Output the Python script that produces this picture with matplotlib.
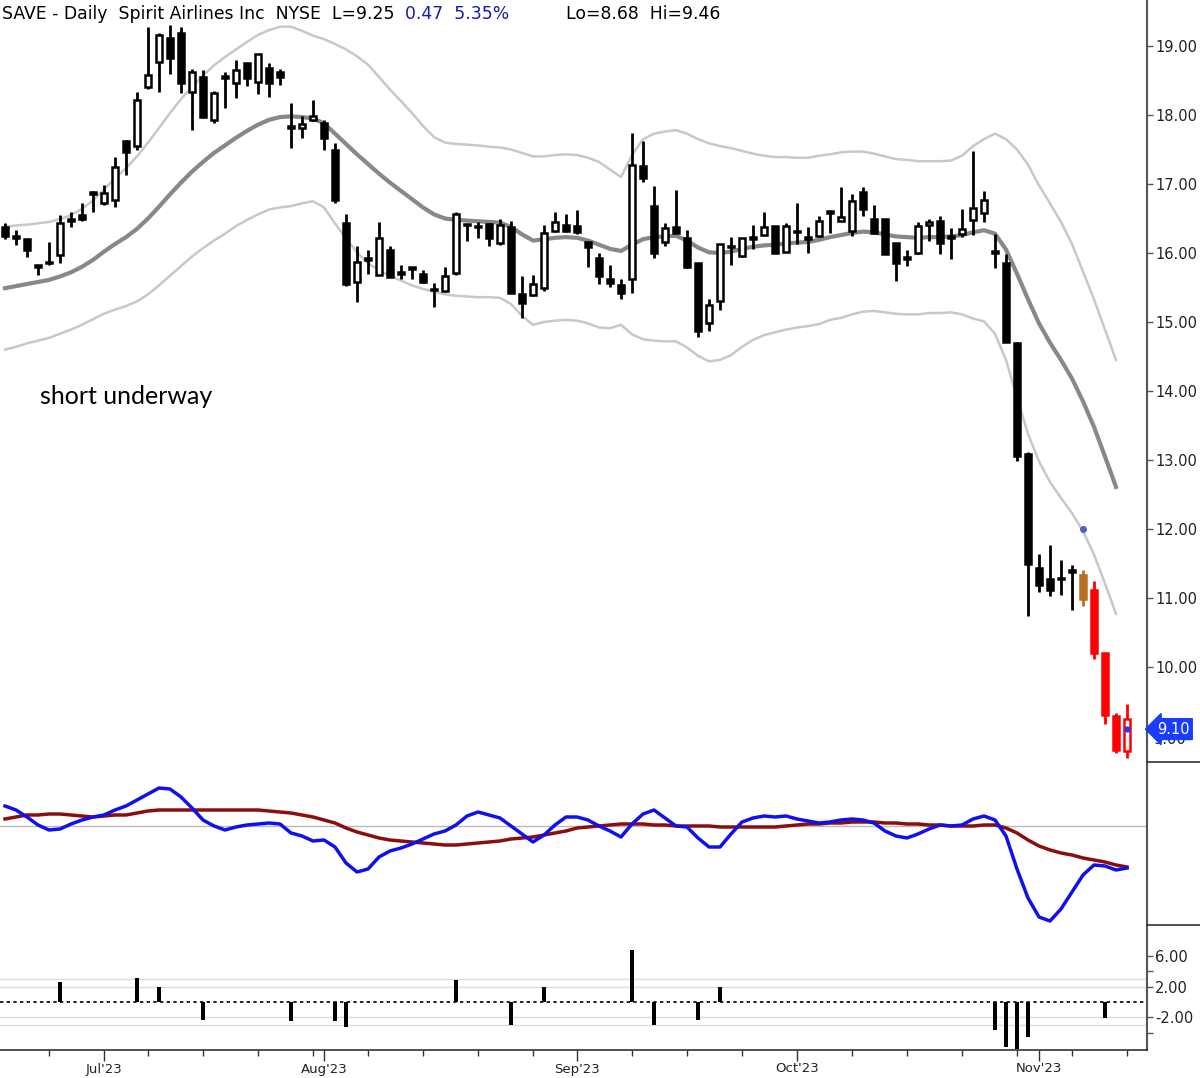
import matplotlib
matplotlib.use("Agg")
import matplotlib.pyplot as plt
import numpy as np
import pandas as pd
from matplotlib.lines import Line2D

# ---------------- data ----------------
dates = [d for d in pd.bdate_range("2023-06-20", "2023-11-13")
         if d.strftime("%Y-%m-%d") not in ("2023-07-04", "2023-09-04")]

opens = [16.38,16.25,16.2,15.8,15.85,15.97,16.47,16.55,16.88,16.72,16.77,17.62,17.55,18.4,18.77,19.12,19.19,18.34,18.55,17.93,
         18.54,18.46,18.75,18.48,18.68,18.62,17.83,17.81,17.93,17.88,17.5,16.43,15.58,15.9,15.68,16.04,15.7,15.77,15.7,15.47,
         15.45,15.71,16.4,16.37,16.42,16.15,16.37,15.4,15.39,15.49,16.32,16.4,16.39,16.16,15.93,15.63,15.54,15.63,17.26,16.68,
         16.16,16.38,16.22,15.86,14.98,15.3,16.08,15.96,16.21,16.26,16.39,16.02,16.3,16.21,16.24,16.58,16.47,16.32,16.88,16.49,
         16.49,16.14,15.92,16.0,16.4,16.46,16.22,16.27,16.48,16.58,16.0,15.86,14.7,13.09,11.44,11.28,11.27,11.39,11.33,11.12,
         10.2,9.29,8.78]
highs = [16.43,16.33,16.22,15.82,16.16,16.55,16.6,16.72,16.9,16.98,17.39,17.64,18.33,19.28,19.19,19.3,19.28,18.66,18.65,18.35,
         18.62,18.8,18.75,18.88,18.75,18.66,18.17,17.98,18.22,17.93,17.6,16.57,16.1,16.04,16.45,16.1,15.83,15.79,15.76,15.57,
         15.79,16.6,16.42,16.45,16.43,16.5,16.46,15.67,15.68,16.41,16.6,16.57,16.63,16.16,16.0,15.82,15.62,17.74,17.63,16.97,
         16.43,16.91,16.33,15.86,15.33,16.13,16.23,16.22,16.4,16.59,16.39,16.43,16.73,16.38,16.54,16.62,16.96,16.86,16.96,16.7,
         16.5,16.14,16.04,16.45,16.5,16.53,16.36,16.64,17.48,16.9,16.28,15.99,14.71,13.11,11.64,11.77,11.55,11.48,11.41,11.25,
         10.21,9.34,9.46]
lows = [16.2,16.12,15.94,15.68,15.83,15.86,16.37,16.46,16.6,16.7,16.67,17.13,17.5,18.38,18.33,18.6,18.32,17.78,17.95,17.89,
        18.1,18.25,18.42,18.3,18.26,18.43,17.52,17.67,17.92,17.5,16.72,15.52,15.29,15.7,15.68,15.65,15.62,15.62,15.56,15.22,
        15.43,15.68,16.17,16.22,16.1,16.12,15.42,15.06,15.38,15.45,16.31,16.3,16.27,15.8,15.55,15.51,15.34,15.42,17.03,15.93,
        16.1,16.29,15.78,14.78,14.87,15.17,15.83,15.94,16.06,16.24,16.0,16.01,16.13,16.0,16.23,16.29,16.46,16.25,16.53,16.27,
        15.98,15.6,15.81,15.98,16.18,15.99,15.92,16.23,16.26,16.45,15.78,14.71,12.98,10.74,11.08,11.03,11.05,10.83,10.88,10.12,
        9.18,8.76,8.68]
closes = [16.25,16.22,16.05,15.82,15.86,16.43,16.5,16.5,16.85,16.87,17.25,17.46,18.22,18.58,19.16,18.83,18.46,18.62,17.97,18.32,
          18.54,18.65,18.53,18.88,18.46,18.55,17.81,17.87,17.99,17.67,16.77,15.55,15.87,15.93,16.22,15.65,15.72,15.77,15.58,15.46,
          15.66,16.57,16.4,16.38,16.22,16.4,15.42,15.27,15.55,16.29,16.45,16.32,16.31,16.09,15.66,15.57,15.42,17.27,17.09,16.0,
          16.36,16.29,15.8,14.87,15.24,16.13,16.09,16.22,16.22,16.38,16.0,16.39,16.31,16.22,16.47,16.58,16.52,16.76,16.64,16.29,
          15.99,15.86,15.93,16.39,16.45,16.15,16.23,16.35,16.65,16.77,16.01,14.71,13.06,11.49,11.19,11.11,11.28,11.38,10.98,10.21,
          9.31,8.79,9.25]

ma20 = [15.49,15.52,15.55,15.58,15.61,15.66,15.72,15.80,15.90,16.02,16.13,16.23,16.35,16.50,16.67,16.85,17.02,17.18,17.32,17.45,
        17.56,17.67,17.77,17.86,17.93,17.97,17.98,17.97,17.95,17.88,17.73,17.58,17.43,17.29,17.15,17.02,16.90,16.78,16.66,16.56,
        16.50,16.48,16.47,16.46,16.45,16.44,16.38,16.27,16.18,16.20,16.22,16.23,16.22,16.18,16.12,16.06,16.03,16.12,16.20,16.23,
        16.24,16.25,16.18,16.08,16.01,16.00,16.02,16.06,16.09,16.11,16.12,16.14,16.15,16.16,16.19,16.23,16.26,16.29,16.31,16.30,
        16.27,16.24,16.23,16.22,16.23,16.23,16.24,16.26,16.30,16.33,16.28,16.05,15.70,15.33,14.98,14.70,14.45,14.18,13.85,13.48,
        13.05,12.61]
band_width = [0.89,0.88,0.86,0.85,0.84,0.83,0.83,0.84,0.86,0.9,0.95,1.0,1.05,1.1,1.14,1.18,1.21,1.23,1.25,1.27,
              1.28,1.28,1.29,1.3,1.3,1.31,1.3,1.25,1.2,1.22,1.3,1.37,1.42,1.44,1.4,1.35,1.3,1.25,1.18,1.12,
              1.1,1.1,1.1,1.1,1.09,1.09,1.12,1.18,1.22,1.2,1.2,1.2,1.2,1.2,1.2,1.15,1.07,1.3,1.45,1.5,
              1.52,1.53,1.55,1.57,1.58,1.55,1.5,1.42,1.35,1.3,1.27,1.25,1.23,1.22,1.22,1.2,1.2,1.18,1.16,1.14,
              1.13,1.12,1.12,1.11,1.1,1.1,1.1,1.15,1.25,1.32,1.45,1.6,1.8,1.95,2.0,2.02,2.0,1.95,1.88,1.85,
              1.84,1.84]

osc_fast = [2.0,1.6,0.9,0.1,-0.4,-0.3,0.2,0.6,0.9,1.1,1.6,2.0,2.6,3.2,3.8,3.7,2.9,1.8,0.6,0.0,
            -0.4,-0.1,0.1,0.2,0.3,0.2,-0.7,-1.0,-1.5,-1.4,-2.1,-3.7,-4.6,-4.3,-3.1,-2.5,-2.2,-1.8,-1.3,-0.8,
            -0.5,0.1,1.0,1.4,1.1,0.8,0.0,-0.8,-1.6,-0.9,0.1,0.9,0.9,0.6,0.0,-0.5,-1.1,0.2,1.2,1.6,
            0.8,0.0,-0.1,-1.2,-2.1,-2.1,-0.8,0.4,0.8,1.0,0.9,1.0,0.7,0.5,0.3,0.4,0.6,0.7,0.6,0.3,
            -0.5,-1.0,-1.2,-0.8,-0.3,0.1,0.0,0.1,0.7,1.0,0.6,-1.0,-4.3,-7.2,-9.1,-9.5,-8.3,-6.6,-4.9,-3.9,
            -4.0,-4.4,-4.2]
osc_slow = [0.7,0.9,1.1,1.1,1.2,1.2,1.1,1.0,0.9,1.0,1.1,1.1,1.3,1.5,1.6,1.6,1.6,1.6,1.6,1.6,
            1.6,1.6,1.6,1.6,1.5,1.4,1.3,1.1,0.9,0.6,0.3,-0.2,-0.6,-0.9,-1.2,-1.4,-1.5,-1.6,-1.7,-1.8,
            -1.9,-1.9,-1.8,-1.7,-1.6,-1.5,-1.3,-1.2,-1.1,-0.9,-0.7,-0.5,-0.2,-0.1,0.0,0.1,0.2,0.2,0.2,0.1,
            0.1,0.0,0.0,0.0,0.0,-0.1,-0.1,-0.1,-0.1,-0.1,-0.1,0.0,0.1,0.2,0.2,0.3,0.3,0.4,0.4,0.4,
            0.3,0.3,0.2,0.2,0.1,0.1,0.0,0.0,0.0,0.1,0.1,-0.2,-0.7,-1.4,-2.0,-2.4,-2.7,-2.9,-3.2,-3.4,
            -3.6,-3.9,-4.1]

hist_idx = [5, 12, 14, 18, 26, 30, 31, 41, 46, 49, 57, 59, 63, 65, 90, 91, 92, 93, 100]
hist_val = [2.6, 3.1, 2.0, -2.4, -2.5, -2.5, -3.3, 2.8, -3.0, 2.0, 6.7, -3.0, -2.4, 2.0, -3.7, -5.9, -6.1, -4.6, -2.1]

brown_idx = [98]
red_idx = [99, 100, 101, 102]
dot_idx, dot_price = 98, 12.0
last_price_label = "9.10"
last_price = 9.10

# ---------------- figure ----------------
W, H = 1200, 1078
fig = plt.figure(figsize=(W / 100, H / 100), dpi=100)
plt.rcParams["font.family"] = ["DejaVu Sans"]
right = 1147 / W

def fy(px):
    return 1 - px / H

ax = fig.add_axes([0, fy(762), right, 762 / H])
axo = fig.add_axes([0, fy(925), right, 163 / H], sharex=ax)
axh = fig.add_axes([0, fy(1050), right, 125 / H], sharex=ax)

n = len(opens)
x = np.arange(n)
o = np.array(opens); h = np.array(highs); l = np.array(lows); c = np.array(closes)

fills, edges = [], []
for i in range(n):
    up = c[i] >= o[i]
    if i in red_idx:
        fills.append("white" if up else "#ff0000"); edges.append("#ff0000")
    elif i in brown_idx:
        fills.append("#b86e1e"); edges.append("#b86e1e")
    else:
        fills.append("white" if up else "black"); edges.append("black")

ax.vlines(x, l, h, colors=edges, linewidth=2.0, zorder=3)
bottoms = np.minimum(o, c)
heights = np.maximum(np.abs(c - o), 0.025)
ax.bar(x, heights, bottom=bottoms, width=0.62, color=fills, edgecolor=edges, linewidth=1.8, zorder=4)

xm = np.arange(len(ma20))
ma = np.array(ma20); bw = np.array(band_width)
ax.plot(xm, ma, color="#888888", linewidth=3, zorder=2)
ax.plot(xm, ma + bw, color="#c8c8c8", linewidth=1.8, zorder=2)
ax.plot(xm, ma - bw, color="#c8c8c8", linewidth=1.8, zorder=2)
ax.plot([dot_idx], [dot_price], "o", color="#5060c0", markersize=4, zorder=5)
ax.plot([n - 1], [last_price], "o", color="#1a3cff", markersize=3.5, zorder=6)

xmin, xmax = -5 / 11, (1147 - 5) / 11
ax.set_xlim(xmin, xmax)
ylo, yhi = 19 - (762 - 46) / 69, 19 + 46 / 69
ax.set_ylim(ylo, yhi)

for a in (ax, axo, axh):
    a.spines["left"].set_visible(False)
    a.spines["top"].set_visible(False)
    a.spines["right"].set_color("#555555")
    a.spines["right"].set_linewidth(1.5)
    a.tick_params(axis="x", which="both", bottom=False, labelbottom=False)
    a.yaxis.tick_right()
    a.set_facecolor("white")
ax.spines["bottom"].set_visible(False)
axo.spines["bottom"].set_visible(False)

ax.set_yticks(np.arange(10, 20))
ax.set_yticklabels([f"{v:.2f}" for v in np.arange(10, 20)], fontsize=10.5)
ax.tick_params(axis="y", length=4, width=1, colors="#555555", labelcolor="#222222", pad=2)
ax.text(1.0055, (9.0 - ylo) / (yhi - ylo) - 0.004, "9.00",
        transform=ax.transAxes, fontsize=10.5, va="center", ha="left", color="#222222", zorder=1)
ax.annotate(last_price_label, xy=(1.0, (last_price - ylo) / (yhi - ylo)),
            xycoords="axes fraction", xytext=(7, 0), textcoords="offset points",
            fontsize=10.5, color="white", va="center", ha="left", annotation_clip=False, zorder=10,
            bbox=dict(boxstyle="larrow,pad=0.2", fc="#1a3cff", ec="#1a3cff"))

ax.text(40 / 1147, 1 - 396 / 762, "short underway",
        transform=ax.transAxes, fontsize=18, family=["Lato", "DejaVu Sans"], va="center", ha="left")

# oscillator panel
axo.plot(np.arange(len(osc_slow)), osc_slow, color="#8b0e0e", linewidth=2.5, zorder=2)
axo.plot(np.arange(len(osc_fast)), osc_fast, color="#1010ee", linewidth=2.5, zorder=3)
axo.axhline(0, color="#bbbbbb", linewidth=1, zorder=1)
axo.set_ylim((826 - 925) / 10, (826 - 762) / 10)
axo.set_yticks([])

# histogram panel
hv = np.zeros(n)
hv[hist_idx] = hist_val
axh.bar(x, hv, width=0.32, color="black", zorder=3)
for g in (3, 2, -2, -3):
    axh.axhline(g, color="#dddddd", linewidth=1, zorder=1)
axh.axhline(0, color="black", linewidth=1.2, linestyle=(0, (2, 2)), zorder=2)
axh.set_ylim(-(1050 - 1002) / 7.7, (1002 - 925) / 7.7)
axh.set_yticks([6, 4, 2, -2, -4])
axh.set_yticklabels(["6.00", "", "2.00", "-2.00", ""], fontsize=10.5)
axh.tick_params(axis="y", length=4, width=1, colors="#555555", labelcolor="#222222", pad=2)
axh.spines["bottom"].set_color("#333333")
axh.spines["bottom"].set_linewidth(1.2)

# x axis: month ticks & weekly minor ticks
month_pos = [i for i in range(1, n) if dates[i].month != dates[i - 1].month]
monday_pos = [i for i in range(n) if dates[i].weekday() == 0 and i not in month_pos]
axh.tick_params(axis="x", which="both", bottom=True, labelbottom=True)
axh.set_xticks(month_pos)
axh.set_xticklabels([dates[i].strftime("%b'%y") for i in month_pos], fontsize=9.5)
axh.set_xticks(monday_pos, minor=True)
axh.tick_params(axis="x", which="major", length=8, width=1, colors="#333333", labelcolor="#222222", pad=1)
axh.tick_params(axis="x", which="minor", length=4, width=1, colors="#333333")
axh.set_xlim(xmin, xmax)

# separator lines in right margin
for py in (762, 925):
    fig.add_artist(Line2D([right, 1], [fy(py), fy(py)], color="#333333", linewidth=1.2))

# title with coloured segments
fig.text(2 / W, fy(14), "SAVE - Daily  Spirit Airlines Inc  NYSE  L=9.25", fontsize=12.4, va="center", ha="left")
fig.text(405 / W, fy(14), "0.47  5.35%", fontsize=12.4, va="center", ha="left", color="#1a1ab0")
fig.text(566 / W, fy(14), "Lo=8.68  Hi=9.46", fontsize=12.4, va="center", ha="left")

fig.savefig("out.png", dpi=100, facecolor="white")
